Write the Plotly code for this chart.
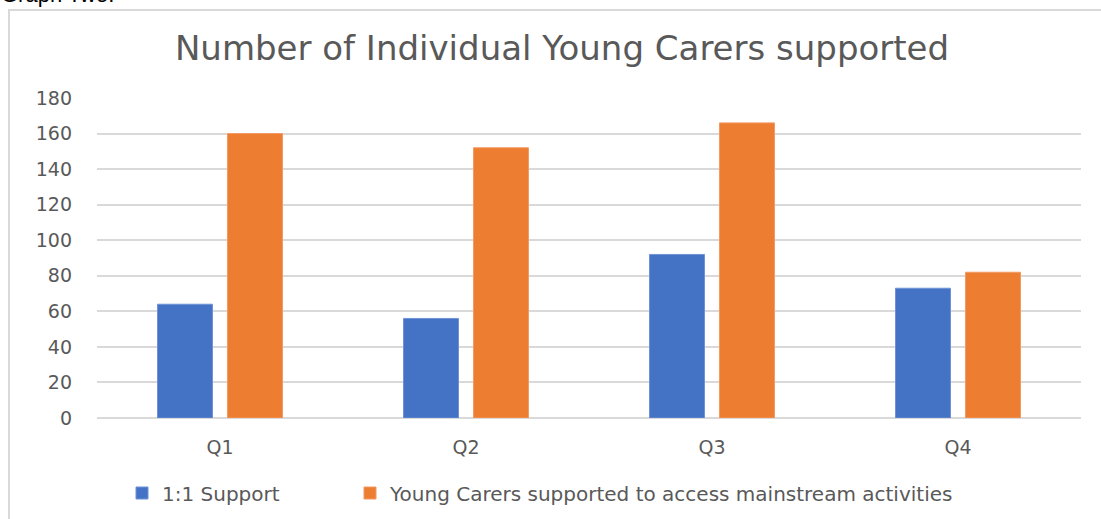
import plotly.graph_objects as go

categories = ["Q1", "Q2", "Q3", "Q4"]
support_1to1 = [64, 56, 92, 73]
mainstream = [160, 152, 166, 82]
series_names = ["1:1 Support", "Young Carers supported to access mainstream activities"]
title_text = "Number of Individual Young Carers supported"
y_ticks = [0, 20, 40, 60, 80, 100, 120, 140, 160, 180]

FONT = "DejaVu Sans"
GREY = "#595959"

fig = go.Figure()
fig.add_trace(go.Bar(x=categories, y=support_1to1, name=series_names[0], legend="legend",
                     marker=dict(color="#4472C4", line=dict(color="#6f93d6", width=1))))
fig.add_trace(go.Bar(x=categories, y=mainstream, name=series_names[1], legend="legend2",
                     marker=dict(color="#ED7D31", line=dict(color="#f29a62", width=1))))

W, H = 1101, 519
L, R, T, B = 97, 20, 98, 101
pw = W - L - R
ph = H - T - B

def px_x(px):
    return (px - L) / pw

def px_y(py):
    return (H - B - py) / ph

legend_common = dict(orientation="h", yref="container", y=1 - 493 / H, yanchor="middle",
                     xanchor="left", font=dict(size=20, color=GREY), bgcolor="rgba(0,0,0,0)")

fig.update_layout(
    width=W, height=H,
    margin=dict(l=L, r=R, t=T, b=B, pad=0, autoexpand=False),
    paper_bgcolor="white", plot_bgcolor="white",
    barmode="group", bargap=0.431, bargroupgap=0.214,
    font=dict(family=FONT, color=GREY, size=19),
    title=dict(text=title_text, xref="container", x=562 / W, xanchor="center",
               yref="container", y=1 - 48 / H, yanchor="middle",
               font=dict(family=FONT, size=34, color=GREY)),
    xaxis=dict(showgrid=False, showline=False, ticks="", tickfont=dict(size=19, color=GREY),
               ticklabelstandoff=16),
    yaxis=dict(range=[0, 180], tickvals=y_ticks, showgrid=True, gridcolor="#d9d9d9",
               gridwidth=2, zeroline=True, zerolinecolor="#d9d9d9", zerolinewidth=2,
               showline=False, ticks="", tickfont=dict(size=19, color=GREY),
               ticklabelstandoff=24),
    legend=dict(legend_common, x=px_x(122)),
    legend2=dict(legend_common, x=px_x(350)),
    showlegend=True,
)

# outer chart border (top and left visible, right/bottom cut off)
fig.add_shape(type="rect", xref="paper", yref="paper",
              x0=px_x(9), x1=px_x(1130), y0=px_y(560), y1=px_y(10),
              line=dict(color="#d9d9d9", width=2), fillcolor="rgba(0,0,0,0)", layer="below")

fig.add_annotation(text="Graph Two:", xref="paper", yref="paper", x=px_x(-1), y=px_y(9),
                   xanchor="left", yanchor="bottom", showarrow=False,
                   font=dict(family="Liberation Sans", size=22, color="black"))

fig.write_html("out.html", config={"displayModeBar": False},
               post_script="document.body.style.margin='0';document.body.style.overflow='hidden';")
